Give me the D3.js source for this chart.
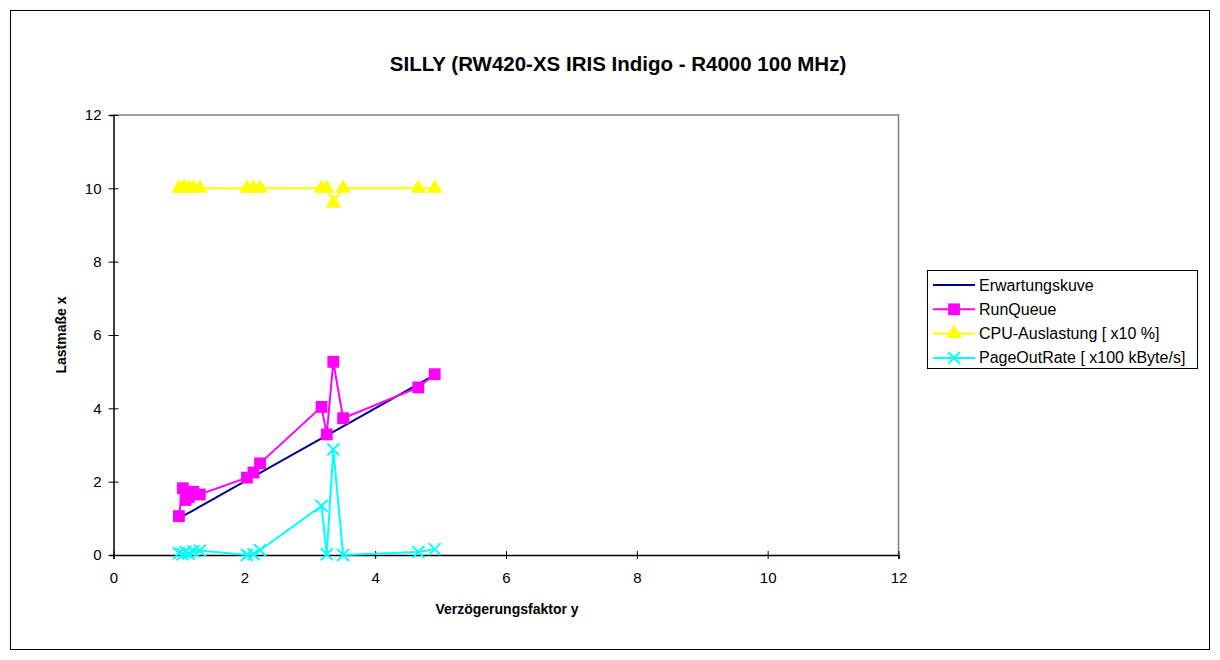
<!DOCTYPE html>
<html>
<head>
<meta charset="utf-8">
<script src="https://cdn.jsdelivr.net/npm/d3@7"></script>
<style>
  body { margin: 0; background: #fff; }
  text { font-family: Arial, "Liberation Sans", sans-serif; }
</style>
</head>
<body>
<div id="chart"></div>
<script>
// data
var xVals      = [1.00, 1.06, 1.10, 1.15, 1.22, 1.32, 2.04, 2.14, 2.24, 3.18, 3.26, 3.36, 3.51, 4.66, 4.91];
var erwartung  = [1.00, 1.06, 1.10, 1.15, 1.22, 1.32, 2.04, 2.14, 2.24, 3.18, 3.26, 3.36, 3.51, 4.66, 4.91];
var runQueue   = [1.06, 1.82, 1.50, 1.58, 1.72, 1.65, 2.11, 2.25, 2.50, 4.04, 3.29, 5.27, 3.73, 4.57, 4.93];
var cpuLast    = [10, 10, 10, 10, 10, 10, 10, 10, 10, 10, 10, 9.6, 10, 10, 10];
var pageOut    = [0.05, 0.02, 0.08, 0.04, 0.10, 0.12, 0.00, 0.02, 0.13, 1.34, 0.02, 2.88, 0.00, 0.08, 0.16];
var xTicks = [0, 2, 4, 6, 8, 10, 12];
var yTicks = [0, 2, 4, 6, 8, 10, 12];

var series = [
  {name: "Erwartungskuve", values: erwartung, color: "#000080", marker: "none"},
  {name: "RunQueue", values: runQueue, color: "#ff00ff", marker: "square"},
  {name: "CPU-Auslastung [ x10 %]", values: cpuLast, color: "#ffff00", marker: "triangle"},
  {name: "PageOutRate [ x100 kByte/s]", values: pageOut, color: "#00ffff", marker: "cross"}
];

var chart_width = 1220;
var chart_height = 660;
var plot = {left: 113.5, right: 898.5, top: 115, bottom: 555};

var svg = d3.select("#chart")
            .append("svg")
            .attr("width", chart_width)
            .attr("height", chart_height);

// outer frame
svg.append("rect")
    .attr("x", 10.5).attr("y", 10.5)
    .attr("width", 1199).attr("height", 639)
    .attr("fill", "#fff").attr("stroke", "#000").attr("stroke-width", 1);

var x = d3.scaleLinear().domain([0, 12]).range([plot.left, plot.right]);
var y = d3.scaleLinear().domain([0, 12]).range([plot.bottom, plot.top]);

// plot area border (grey top/right)
svg.append("path")
    .attr("d", "M" + plot.left + "," + plot.top + "H" + plot.right + "V" + plot.bottom)
    .attr("fill", "none").attr("stroke", "#808080").attr("stroke-width", 1.5);

var xAxis = svg.append("g")
    .attr("transform", "translate(0," + plot.bottom + ")")
    .call(d3.axisBottom(x).tickValues(xTicks).tickSize(4).tickFormat(d3.format("d")));
xAxis.selectAll(".tick line").attr("y1", -4).attr("y2", 4);
xAxis.selectAll(".tick text").attr("y", 17).attr("font-size", 15).attr("fill", "#000");

var yAxis = svg.append("g")
    .attr("transform", "translate(" + plot.left + ",0)")
    .call(d3.axisLeft(y).tickValues(yTicks).tickSize(4).tickFormat(d3.format("d")));
yAxis.selectAll(".tick line").attr("x1", -5).attr("x2", 5);
yAxis.selectAll(".tick text").attr("x", -12).attr("font-size", 15).attr("fill", "#000");

svg.selectAll(".domain").attr("stroke", "#000").attr("stroke-width", 1.5);
svg.selectAll(".tick line").attr("stroke", "#000");
svg.selectAll(".tick text").style("font-family", "Arial, 'Liberation Sans', sans-serif");

var symbolFor = function(m) {
  if (m == "square") return d3.symbol().type(d3.symbolSquare).size(140);
  if (m == "triangle") return d3.symbol().type(d3.symbolTriangle).size(105);
  return d3.symbol().type(d3.symbolX).size(95);
};

var line = d3.line()
    .x(function(d) { return x(d[0]); })
    .y(function(d) { return y(d[1]); });

series.forEach(function(s) {
  var pts = xVals.map(function(v, i) { return [v, s.values[i]]; });
  var g = svg.append("g");
  g.append("path")
    .datum(pts)
    .attr("d", line)
    .attr("fill", "none")
    .attr("stroke", s.color)
    .attr("stroke-width", 2);
  if (s.marker == "none") return;
  g.selectAll("path.m")
    .data(pts)
    .enter()
    .append("path")
    .attr("class", "m")
    .attr("transform", function(d) { return "translate(" + x(d[0]) + "," + y(d[1]) + ")"; })
    .attr("d", symbolFor(s.marker))
    .attr("fill", s.marker == "cross" ? "none" : s.color)
    .attr("stroke", s.color)
    .attr("stroke-width", s.marker == "cross" ? 2 : 0);
});

// title and axis labels
svg.append("text")
    .attr("x", 618).attr("y", 71)
    .attr("text-anchor", "middle")
    .attr("font-size", 20.5).attr("font-weight", "bold")
    .text("SILLY (RW420-XS IRIS Indigo - R4000 100 MHz)");

svg.append("text")
    .attr("x", 507).attr("y", 614)
    .attr("text-anchor", "middle")
    .attr("font-size", 14).attr("font-weight", "bold")
    .text("Verzögerungsfaktor y");

svg.append("text")
    .attr("transform", "translate(66,335) rotate(-90)")
    .attr("text-anchor", "middle")
    .attr("font-size", 14).attr("font-weight", "bold")
    .text("Lastmaße x");

// legend
var legend = svg.append("g").attr("transform", "translate(927,270)");
legend.append("rect")
    .attr("x", 0.5).attr("y", 0.5)
    .attr("width", 270).attr("height", 98)
    .attr("fill", "#fff").attr("stroke", "#000").attr("stroke-width", 1);

var rows = legend.selectAll("g.row")
    .data(series)
    .enter()
    .append("g")
    .attr("class", "row")
    .attr("transform", function(d, i) { return "translate(0," + (15 + i * 24.3) + ")"; });

rows.append("line")
    .attr("x1", 6).attr("x2", 48)
    .attr("stroke", function(d) { return d.color; })
    .attr("stroke-width", 2);

rows.filter(function(d) { return d.marker != "none"; })
    .append("path")
    .attr("transform", "translate(27,0)")
    .attr("d", function(d) { return symbolFor(d.marker)(); })
    .attr("fill", function(d) { return d.marker == "cross" ? "none" : d.color; })
    .attr("stroke", function(d) { return d.color; })
    .attr("stroke-width", function(d) { return d.marker == "cross" ? 2 : 0; });

rows.append("text")
    .attr("x", 52).attr("y", 5.5)
    .attr("font-size", 16)
    .text(function(d) { return d.name; });
</script>
</body>
</html>
